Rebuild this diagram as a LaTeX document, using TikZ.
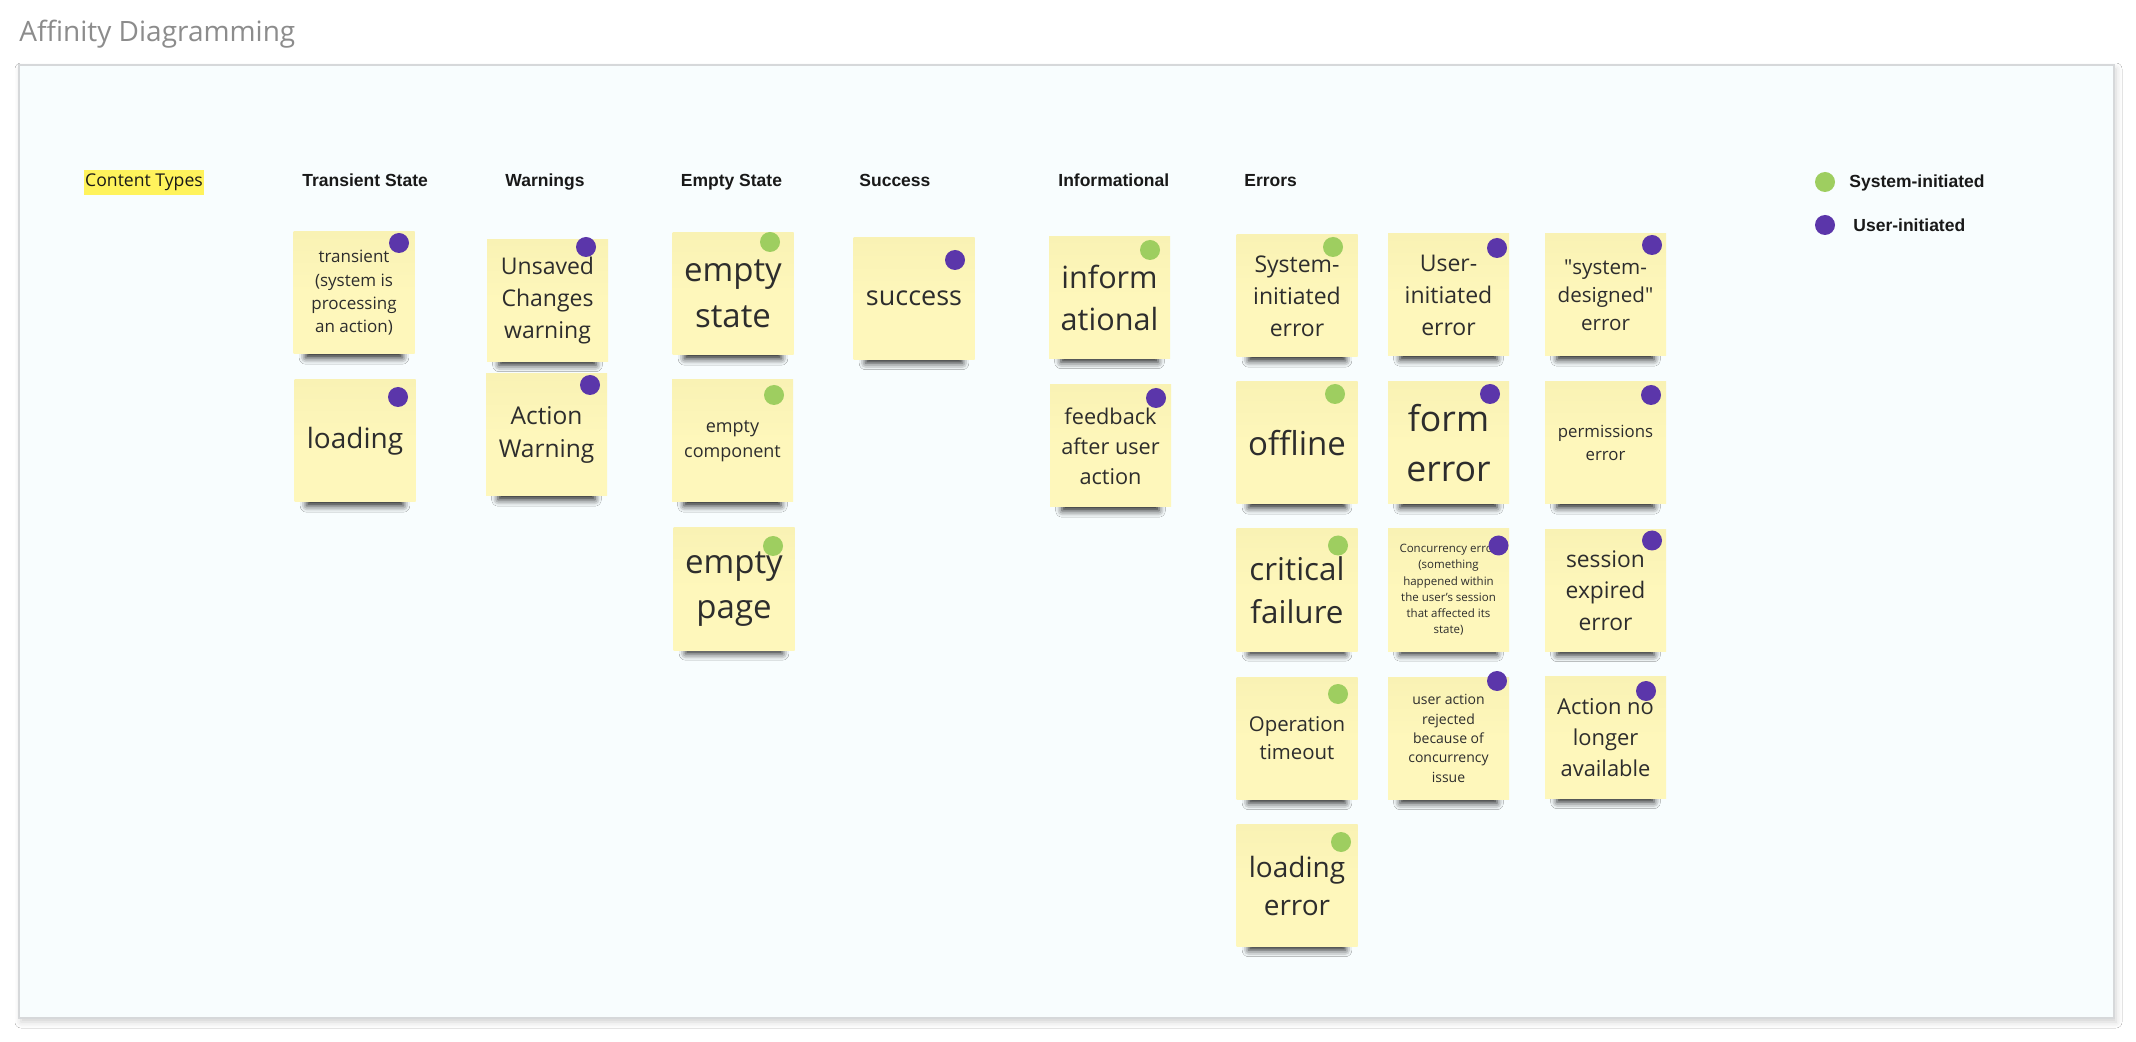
\documentclass[tikz,border=0pt]{standalone}
\usepackage{fontspec}
\setmainfont{Open Sans}
\newfontfamily\headfont{Liberation Sans}
\usetikzlibrary{shadows.blur}

\definecolor{panelbg}{RGB}{248,253,254}
\definecolor{panelline}{RGB}{214,216,218}
\definecolor{stickyfill}{RGB}{254,247,187}
\definecolor{stickytop}{RGB}{249,242,180}
\definecolor{sysgreen}{RGB}{158,206,96}
\definecolor{userpurple}{RGB}{91,54,170}
\definecolor{notetext}{RGB}{45,45,45}
\definecolor{headtext}{RGB}{25,25,25}
\definecolor{titlegray}{RGB}{140,140,140}
\definecolor{highlight}{RGB}{255,243,92}

\begin{document}
\begin{tikzpicture}[x=0.5pt, y=-0.5pt,
    sticky/.style 2 args={shade, top color=stickytop, bottom color=stickyfill,
        middle color=stickyfill, minimum width=60.5pt, minimum height=61pt,
        inner sep=0pt, align=center, text=notetext, font=\fontsize{#1}{#2}\selectfont,
        blur shadow={shadow xshift=0pt, shadow yshift=-10pt, shadow scale=0.8,
            shadow blur radius=4pt, shadow opacity=85}},
    sysdot/.style={circle, fill=sysgreen, minimum size=10pt, inner sep=0pt},
    userdot/.style={circle, fill=userpurple, minimum size=10pt, inner sep=0pt},
    header/.style={anchor=base west, inner sep=0pt, text=headtext,
        font=\headfont\bfseries\fontsize{8.75}{10}\selectfont}]

    \useasboundingbox (0,0) rectangle (2136,1042);
    \fill[white] (0,0) rectangle (2136,1042);

    % Title and board
    \node[anchor=base west, inner sep=0pt, text=titlegray, font=\fontsize{14}{17}\selectfont] (title) at (19,42) {Affinity Diagramming};
    \draw[panelline, line width=1pt, fill=panelbg,
        blur shadow={shadow xshift=1pt, shadow yshift=-2pt, shadow blur radius=3pt, shadow opacity=18}]
        (19,65) rectangle (2114,1018);

    % Headers
    \node[fill=highlight, minimum width=60pt, minimum height=12.5pt, inner sep=0pt, text=headtext, font=\fontsize{8.8}{10}\selectfont] (types) at (144,182.5) {Content Types};
    \node[header] (transhead) at (302,187) {Transient State};
    \node[header] (warnhead) at (505,187) {Warnings};
    \node[header] (emptyhead) at (680.5,187) {Empty State};
    \node[header] (succhead) at (859,187) {Success};
    \node[header] (infohead) at (1058,187) {Informational};
    \node[header] (errhead) at (1244,187) {Errors};

    % Legend
    \node[sysdot] (sysleg) at (1825,182) {};
    \node[header] (syslabel) at (1849,188) {System-initiated};
    \node[userdot] (userleg) at (1825,225) {};
    \node[header] (userlabel) at (1853,232) {User-initiated};

    % Transient State
    \node[sticky={8.5}{11.7}] (trans1) at (354,293) {transient\\(system is\\processing\\an action)};
    \node[userdot] (trans1dot) at (399,243) {};
    \node[sticky={14}{19}] (trans2) at (355,441) {loading};
    \node[userdot] (trans2dot) at (398,397) {};

    % Warnings
    \node[sticky={11.5}{15.8}] (warn1) at (547.5,300.5) {Unsaved\\Changes\\warning};
    \node[userdot] (warn1dot) at (586,247) {};
    \node[sticky={12.25}{16.7}] (warn2) at (546.5,435) {Action\\Warning};
    \node[userdot] (warn2dot) at (590,385) {};

    % Empty State
    \node[sticky={16.5}{23}] (empty1) at (733,294) {empty\\state};
    \node[sysdot] (empty1dot) at (770,242) {};
    \node[sticky={9}{12.5}] (empty2) at (732.5,441) {empty\\component};
    \node[sysdot] (empty2dot) at (774,395) {};
    \node[sticky={16.5}{22.8}] (empty3) at (734,589) {empty\\page};
    \node[sysdot] (empty3dot) at (773,546) {};

    % Success
    \node[sticky={13.5}{18}] (succ1) at (914,298.5) {success};
    \node[userdot] (succ1dot) at (955,260) {};

    % Informational
    \node[sticky={15.3}{21}] (info1) at (1109.5,297.5) {inform\\ational};
    \node[sysdot] (info1dot) at (1150,250) {};
    \node[sticky={10.85}{15}] (info2) at (1110.5,446) {feedback\\after user\\action};
    \node[userdot] (info2dot) at (1156,398) {};

    % Errors, first column
    \node[sticky={11.5}{16}] (err1) at (1297,296) {System-\\initiated\\error};
    \node[sysdot] (err1dot) at (1333,247) {};
    \node[sticky={16.5}{22}] (err2) at (1297,443) {offline};
    \node[sysdot] (err2dot) at (1335,394) {};
    \node[sticky={15.7}{21.5}] (err3) at (1297,590) {critical\\failure};
    \node[sysdot] (err3dot) at (1338,545.5) {};
    \node[sticky={10.2}{14}] (err4) at (1297,738.5) {Operation\\timeout};
    \node[sysdot] (err4dot) at (1338,694) {};
    \node[sticky={14}{19}] (err5) at (1297,885.5) {loading\\error};
    \node[sysdot] (err5dot) at (1341,842) {};

    % Errors, second column
    \node[sticky={11.5}{16}] (err6) at (1448.5,295) {User-\\initiated\\error};
    \node[userdot] (err6dot) at (1497,248) {};
    \node[sticky={17.8}{25}] (err7) at (1448.5,443) {form\\error};
    \node[userdot] (err7dot) at (1490,394) {};
    \node[sticky={5.75}{8.1}] (err8) at (1448.5,590) {Concurrency error\\(something\\happened within\\the user's session\\that affected its\\state)};
    \node[userdot] (err8dot) at (1498.5,545.5) {};
    \node[sticky={7}{9.65}] (err9) at (1448.5,738.5) {user action\\rejected\\because of\\concurrency\\issue};
    \node[userdot] (err9dot) at (1497,681) {};

    % Errors, third column
    \node[sticky={10.3}{14}] (err10) at (1605.5,295) {\textquotedbl system-\\designed\textquotedbl\\error};
    \node[userdot] (err10dot) at (1652,245) {};
    \node[sticky={8.4}{11.85}] (err11) at (1605.5,443) {permissions\\error};
    \node[userdot] (err11dot) at (1651,395) {};
    \node[sticky={11.4}{15.75}] (err12) at (1605.5,590.5) {session\\expired\\error};
    \node[userdot] (err12dot) at (1652,540.5) {};
    \node[sticky={10.95}{15.35}] (err13) at (1605.5,737.5) {Action no\\longer\\available};
    \node[userdot] (err13dot) at (1646,691) {};

\end{tikzpicture}
\end{document}
